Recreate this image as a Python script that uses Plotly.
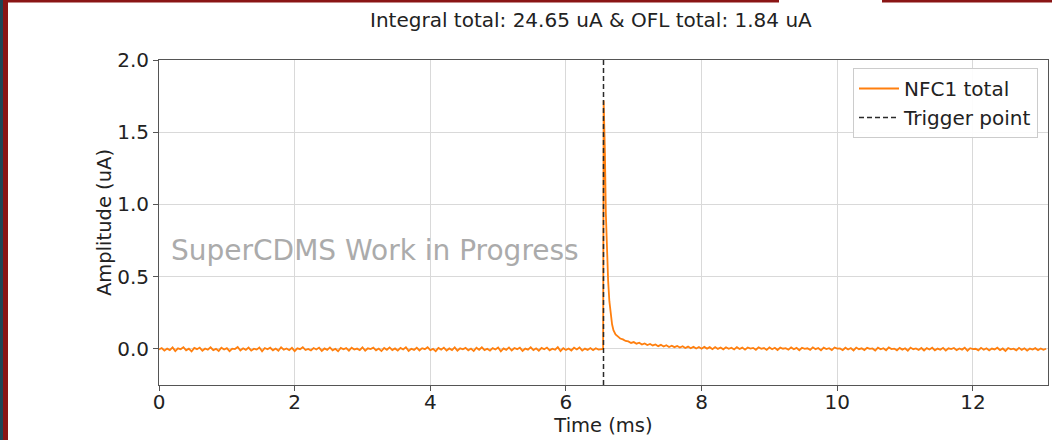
import numpy as np
import plotly.graph_objects as go

# ---------------- data ----------------
title_text = "Integral total: 24.65 uA & OFL total: 1.84 uA"
trace_name = "NFC1 total"
trigger_name = "Trigger point"
trigger_time_ms = 6.5536
sample_step_ms = 0.04

pre_start_ms = 0.0
pre_values = [
    -0.004, 0.006, -0.012, 0.002, -0.008, 0.010, -0.015, 0.004, -0.003, 0.012,
    -0.010, 0.001, -0.018, 0.007, -0.002, 0.009, -0.013, 0.003, -0.006, 0.011,
    -0.009, 0.000, -0.014, 0.008, -0.004, 0.005, -0.016, 0.002, -0.001, 0.013,
    -0.011, 0.004, -0.007, 0.009, -0.012, 0.001, -0.005, 0.010, -0.017, 0.006,
    -0.003, 0.008, -0.010, 0.002, -0.013, 0.011, -0.006, 0.003, -0.009, 0.007,
    -0.015, 0.004, -0.002, 0.012, -0.008, 0.000, -0.011, 0.006, -0.004, 0.009,
    -0.014, 0.003, -0.007, 0.010, -0.010, 0.001, -0.016, 0.007, -0.003, 0.005,
    -0.012, 0.008, -0.005, 0.002, -0.009, 0.011, -0.013, 0.004, -0.001, 0.009,
    -0.010, 0.002, -0.015, 0.006, -0.006, 0.010, -0.008, 0.003, -0.012, 0.007,
    -0.004, 0.011, -0.014, 0.001, -0.007, 0.008, -0.011, 0.005, -0.002, 0.012,
    -0.009, 0.000, -0.016, 0.006, -0.005, 0.009, -0.012, 0.003, -0.008, 0.010,
    -0.013, 0.004, -0.003, 0.007, -0.010, 0.002, -0.015, 0.008, -0.006, 0.011,
    -0.008, 0.001, -0.012, 0.005, -0.004, 0.009, -0.017, 0.003, -0.007, 0.010,
    -0.011, 0.006, -0.002, 0.008, -0.014, 0.002, -0.005, 0.011, -0.009, 0.004,
    -0.013, 0.007, -0.003, 0.009, -0.010, 0.001, -0.006, 0.012, -0.015, 0.005,
    -0.008, 0.003, -0.011, 0.008, -0.004, 0.010, -0.012, 0.002, -0.007, 0.006,
    -0.009, 0.004, -0.005, 0.001,
]

pulse_times = [6.548, 6.556, 6.565, 6.575, 6.588, 6.600, 6.622, 6.640,
               6.657, 6.680, 6.700, 6.731, 6.760, 6.800, 6.840, 6.880]
pulse_values = [0.000, 1.720, 1.600, 1.350, 0.940, 0.700, 0.470, 0.330,
                0.240, 0.170, 0.130, 0.100, 0.088, 0.072, 0.066, 0.055]

tail_start_ms = 6.92
tail_values = [
    0.052, 0.041, 0.047, 0.036, 0.043, 0.030, 0.038, 0.027, 0.034, 0.024,
    0.031, 0.019, 0.028, 0.016, 0.025, 0.013, 0.022, 0.012, 0.020, 0.009,
    0.018, 0.006, 0.016, 0.004, 0.015, 0.003, 0.013, 0.001, 0.014, 0.002,
    0.012, -0.002, 0.013, 0.000, 0.010, -0.003, 0.011, 0.001, 0.008, -0.004,
    0.012, -0.001, 0.009, -0.005, 0.010, 0.002, 0.007, -0.006, 0.011, 0.000,
    0.006, -0.007, 0.010, -0.002, 0.008, -0.008, 0.009, 0.001, 0.005, -0.006,
    0.010, -0.003, 0.007, -0.009, 0.008, 0.000, 0.004, -0.007, 0.011, -0.002,
    0.006, -0.010, 0.009, -0.001, 0.005, -0.008, 0.010, 0.002, 0.003, -0.009,
    0.008, -0.004, 0.006, -0.011, 0.009, -0.002, 0.004, -0.008, 0.007, 0.000,
    0.003, -0.012, 0.008, -0.003, 0.005, -0.009, 0.010, -0.001, 0.002, -0.010,
    0.007, -0.005, 0.004, -0.013, 0.009, -0.002, 0.003, -0.008, 0.006, -0.011,
    0.005, -0.004, 0.008, -0.010, 0.002, -0.006, 0.007, -0.012, 0.004, -0.001,
    0.006, -0.009, 0.003, -0.005, 0.008, -0.013, 0.005, -0.002, 0.001, -0.010,
    0.007, -0.006, 0.004, -0.011, 0.002, -0.004, 0.008, -0.009, 0.003, -0.014,
    0.006, -0.003, 0.001, -0.010, 0.007, -0.007, 0.004, -0.012, 0.002, -0.005,
    0.005, -0.009, 0.003, -0.006, 0.001,
]

x_range = [0, 13.1072]
y_range = [-0.25, 2.0]
x_ticks = [0, 2, 4, 6, 8, 10, 12]
y_ticks = [0.0, 0.5, 1.0, 1.5, 2.0]
y_tick_labels = ["0.0", "0.5", "1.0", "1.5", "2.0"]

# ---------------- build series ----------------
pre_times = pre_start_ms + sample_step_ms * np.arange(len(pre_values))
tail_times = tail_start_ms + sample_step_ms * np.arange(len(tail_values))
times = np.concatenate([pre_times, pulse_times, tail_times])
amps = np.concatenate([pre_values, pulse_values, tail_values])

W, H = 1052, 440
ML, MR, MT, MB = 159, 4, 60, 55
PW, PH = W - ML - MR, H - MT - MB


def px_x(p):
    return (p - ML) / PW


def px_y(p):
    return (H - MB - p) / PH


FONT = "DejaVu Sans"
fig = go.Figure()
fig.add_trace(go.Scatter(
    x=times, y=amps, mode="lines", name=trace_name,
    line=dict(color="#ff7f0e", width=1.8),
))
fig.add_trace(go.Scatter(
    x=[trigger_time_ms, trigger_time_ms], y=y_range, mode="lines",
    name=trigger_name, line=dict(color="#2a2a2a", width=1.5, dash="5px,3px"),
))

axis_common = dict(
    showgrid=True, gridcolor="#d9d9d9", gridwidth=1,
    showline=True, linecolor="#555555", linewidth=1, mirror=True,
    ticks="outside", ticklen=5, tickwidth=1, tickcolor="#555555",
    tickfont=dict(family=FONT, size=20, color="#222222"),
    zeroline=False,
)
fig.update_xaxes(range=x_range, tickvals=x_ticks, ticklabelstandoff=-6,
                 title=dict(text="Time (ms)", font=dict(family=FONT, size=19.5, color="#222222"), standoff=0),
                 **axis_common)
fig.update_yaxes(range=y_range, tickvals=y_ticks, ticktext=y_tick_labels,
                 title=dict(text="Amplitude (uA)", font=dict(family=FONT, size=19.5, color="#222222"), standoff=0),
                 **axis_common)

fig.add_annotation(
    text="SuperCDMS Work in Progress", xref="x", yref="y",
    x=0.15, y=0.68, xanchor="left", yanchor="middle", showarrow=False,
    font=dict(family=FONT, size=28, color="#ababab"),
)

# slide border decoration from the screenshot
shapes = [
    dict(type="rect", xref="paper", yref="paper", x0=px_x(0), x1=px_x(3), y0=px_y(440), y1=px_y(0),
         fillcolor="#1d4656", line=dict(width=0), layer="above"),
    dict(type="rect", xref="paper", yref="paper", x0=px_x(3), x1=px_x(8), y0=px_y(440), y1=px_y(0),
         fillcolor="#8a1515", line=dict(width=0), layer="above"),
    dict(type="rect", xref="paper", yref="paper", x0=px_x(8), x1=px_x(779), y0=px_y(2.5), y1=px_y(0),
         fillcolor="#8a1515", line=dict(width=0), layer="above"),
    dict(type="rect", xref="paper", yref="paper", x0=px_x(882), x1=px_x(1052), y0=px_y(2.5), y1=px_y(0),
         fillcolor="#8a1515", line=dict(width=0), layer="above"),
]

fig.update_layout(
    width=W, height=H,
    margin=dict(l=ML, r=MR, t=MT, b=MB),
    paper_bgcolor="white", plot_bgcolor="white",
    title=dict(text=title_text, x=(ML + PW / 2) / W - 0.012, xanchor="center",
               yref="container", y=1 - 20 / H, yanchor="middle",
               font=dict(family=FONT, size=20, color="#222222")),
    legend=dict(x=px_x(1038), xanchor="right", y=px_y(68), yanchor="top",
                bgcolor="rgba(255,255,255,0.9)", bordercolor="#cccccc", borderwidth=1,
                font=dict(family=FONT, size=20, color="#222222"),
                tracegroupgap=0, itemwidth=40),
    shapes=shapes,
    showlegend=True,
)

fig.write_html("out.html")
